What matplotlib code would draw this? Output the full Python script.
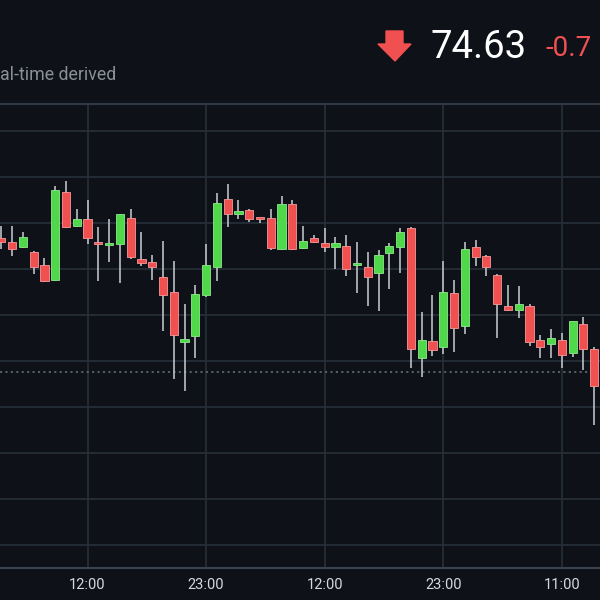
import numpy as np
import matplotlib.pyplot as plt
from matplotlib.patches import Polygon

plt.rcParams['font.family'] = ['Roboto', 'DejaVu Sans']

# hourly candles
opens = [76.08, 76.04, 75.99, 75.93, 75.79, 75.63, 76.58, 76.22, 76.29, 76.04,
         76.01, 76.02, 76.30, 75.86, 75.82, 75.66, 75.50, 74.95, 75.02, 75.46,
         75.77, 76.51, 76.35, 76.39, 76.30, 76.30, 75.96, 76.45, 75.98, 76.08,
         76.03, 75.99, 76.00, 75.79, 75.77, 75.70, 75.92, 75.99, 76.19, 74.78,
         74.97, 74.90, 75.49, 75.13, 75.99, 75.89, 75.68, 75.35, 75.30, 75.35,
         74.98, 74.93, 74.98, 74.83, 75.15, 74.88]
highs = [76.21, 76.21, 76.15, 75.94, 75.87, 76.65, 76.70, 76.40, 76.50, 76.20,
         76.29, 76.35, 76.40, 76.15, 75.90, 76.05, 75.83, 75.37, 75.57, 76.02,
         76.57, 76.67, 76.50, 76.40, 76.30, 76.40, 76.54, 76.50, 76.22, 76.12,
         76.19, 76.09, 76.12, 76.04, 75.93, 75.95, 76.03, 76.19, 76.20, 75.28,
         75.46, 75.83, 75.63, 76.04, 76.06, 75.90, 75.69, 75.57, 75.56, 75.37,
         75.03, 75.10, 75.05, 75.18, 75.23, 74.90]
lows = [75.96, 75.89, 75.98, 75.69, 75.61, 75.62, 76.19, 76.20, 76.02, 75.62,
        75.82, 75.60, 75.86, 75.78, 75.63, 75.07, 74.55, 74.42, 74.78, 75.44,
        75.62, 76.20, 76.29, 76.26, 76.25, 75.95, 75.95, 75.95, 75.97, 76.03,
        75.93, 75.75, 75.67, 75.49, 75.35, 75.29, 75.53, 75.70, 74.67, 74.57,
        74.80, 74.82, 74.85, 75.04, 75.78, 75.67, 75.00, 75.29, 75.22, 74.91,
        74.78, 74.78, 74.67, 74.79, 74.65, 74.05]
closes = [76.04, 75.97, 76.09, 75.77, 75.62, 76.61, 76.20, 76.29, 76.08, 76.02,
          76.03, 76.34, 75.88, 75.81, 75.77, 75.46, 75.03, 74.99, 75.48, 75.79,
          76.47, 76.35, 76.36, 76.29, 76.29, 75.98, 76.45, 75.96, 76.05, 76.04,
          75.99, 76.03, 75.75, 75.80, 75.66, 75.90, 76.00, 76.15, 74.88, 74.98,
          74.87, 75.50, 75.11, 75.97, 75.88, 75.77, 75.37, 75.30, 75.37, 74.95,
          74.90, 75.00, 74.81, 75.18, 74.88, 74.48]

tick_pos = [8, 19, 30, 41, 52]
tick_labels = ['12:00', '23:00', '12:00', '23:00', '11:00']
grid_levels = [72.75, 73.25, 73.75, 74.25, 74.75, 75.25, 75.75, 76.25, 76.75, 77.25]
last_price = 74.63
change_text = '-0.7'
subtitle = 'al-time derived'

bg = '#0e1117'
up_col = '#4fd94a'
down_col = '#f0504f'
grid_col = '#27303a'

fig = plt.figure(figsize=(6, 6), dpi=100, facecolor=bg)
ax = fig.add_axes([0, 32 / 600, 1, 464 / 600])
ax.set_facecolor(bg)

o = np.array(opens)
c = np.array(closes)
x = np.arange(len(o))
rising = c >= o
colors = np.where(rising, up_col, down_col)
edges = np.where(rising, '#8fe88a', '#f79a9a')

# wicks first, bodies on top
ax.vlines(x, lows, highs, color='#bcc0c6', lw=1.2, zorder=2)
body_bottom = np.minimum(o, c)
body_h = np.maximum(np.abs(c - o), 0.025)
ax.bar(x, body_h, bottom=body_bottom, width=0.76, color=colors,
       edgecolor=edges, linewidth=0.6, zorder=3)

for lvl in grid_levels:
    ax.axhline(lvl, color=grid_col, lw=1.2, zorder=0)
for p in tick_pos:
    ax.axvline(p, color=grid_col, lw=1.2, zorder=0)

# current price line
ax.axhline(last_price, color='#5c6470', lw=1.3, ls=(0, (1.2, 1.8)), zorder=1)

ax.set_xlim(-0.12, 55.54)
ax.set_ylim(72.50, 77.54)
ax.set_xticks(tick_pos)
ax.set_xticklabels(tick_labels, color='#d6d9dd', fontsize=10.5)
ax.tick_params(axis='x', length=0, pad=7)
ax.set_yticks([])
for side in ['left', 'right']:
    ax.spines[side].set_visible(False)
ax.spines['bottom'].set_color('#3a4450')
ax.spines['bottom'].set_linewidth(1.5)
ax.spines['top'].set_color('#2f3844')
ax.spines['top'].set_linewidth(1.5)

# header
fig.text(0.0, 1 - 75 / 600, subtitle, color='#8b9097', fontsize=12.8,
         va='center', ha='left')
fig.text(430 / 600, 1 - 47 / 600, f'{last_price:.2f}', color='white',
         fontsize=27.5, va='center', ha='left')
fig.text(545 / 600, 1 - 49 / 600, change_text, color=down_col,
         fontsize=20, va='center', ha='left')

arrow_px = [(386, 31), (403, 31), (403, 44), (411, 44), (395, 61),
            (378, 44), (386, 44)]
arrow = Polygon([(px / 600, 1 - py / 600) for px, py in arrow_px],
                closed=True, transform=fig.transFigure, color=down_col)
fig.patches.append(arrow)

fig.savefig('out.png', dpi=100, facecolor=bg)
